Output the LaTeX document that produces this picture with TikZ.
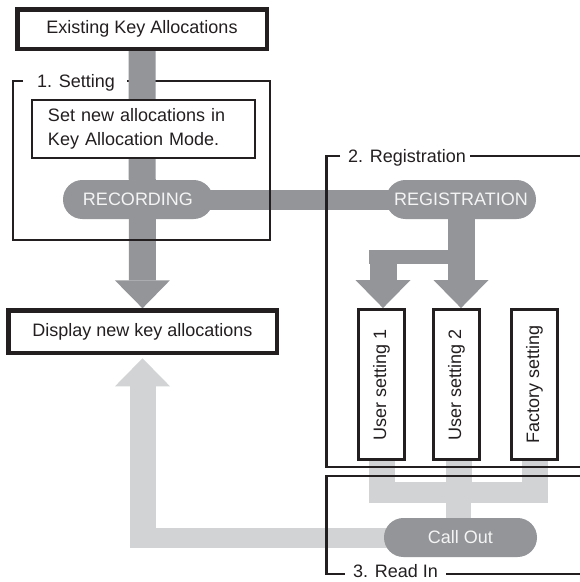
\documentclass[tikz,border=0pt]{standalone}
\usepackage{fontspec}
\setmainfont{Liberation Sans}
\usetikzlibrary{arrows.meta}
\definecolor{barDark}{HTML}{939598}
\definecolor{barLight}{HTML}{D1D3D4}
\definecolor{ink}{HTML}{231F20}
\definecolor{pillText}{HTML}{F4F4F4}
\pgfdeclarelayer{under}
\pgfdeclarelayer{bars}
\pgfsetlayers{under,bars,main}

\begin{document}
\begin{tikzpicture}[x=1pt,y=-1pt,
  every node/.style={font=\fontsize{18}{23.4}\selectfont, text=ink},
  heavybox/.style={draw=ink, line width=4.5pt, fill=white, inner sep=0pt},
  thinbox/.style={draw=ink, line width=2.5pt, fill=white, inner sep=0pt},
  vbox/.style={thinbox, minimum width=46.4pt, minimum height=150.4pt},
  pill/.style={fill=barDark, rounded corners=19.4pt, minimum height=39pt, inner sep=0pt, text=pillText},
  frameline/.style={draw=ink, line width=2.2pt},
  darkbar/.style={draw=barDark, line width=#1},
  lightbar/.style={draw=barLight, line width=#1},
  bigtip/.style={-{Triangle[width=55pt,length=28pt,line width=0pt]}},
  framelabel/.style={anchor=base west, inner sep=0pt}
]
\useasboundingbox (0,0) rectangle (580,582);
\begin{pgfonlayer}{under}
  \fill[white] (0,0) rectangle (580,582);
  % top edge of the "Setting" frame runs beneath the main bar
  \draw[frameline] (127,81) -- (160,81);
\end{pgfonlayer}

% boxes
\node[heavybox, minimum width=249.5pt, minimum height=39.5pt] (top) at (142,29) {Existing Key Allocations};
\node[heavybox, minimum width=268.5pt, minimum height=42.5pt] (disp) at (142.5,331.8) {Display new key allocations};
\node[thinbox, text width=191pt, align=left, inner xsep=15.8pt, minimum height=57.6pt] (set) at (143.5,129) {Set new allocations in\\Key Allocation Mode.};
\node[vbox] (us1) at (381.5,384.5) {\rotatebox{90}{User setting 1}};
\node[vbox] (us2) at (456.5,384.5) {\rotatebox{90}{User setting 2}};
\node[vbox] (fac) at (534.5,384.5) {\rotatebox{90}{Factory setting}};

% pills
\node[pill, minimum width=150pt] (rec) at (138,199.5) {RECORDING};
\node[pill, minimum width=150pt] (reg) at (461,199.5) {REGISTRATION};
\node[pill, minimum width=153pt] (call) at (460.5,537.5) {Call Out};

% helper points for the bars
\coordinate (forkR) at (461,257);
\coordinate (forkL) at (369,257);
\coordinate (forkTop) at (383,250);
\coordinate (combBase) at (0,503);
\coordinate (s2) at (458.5,461);
\coordinate (combL) at (369,492.5);
\coordinate (combR) at (547,492.5);
\coordinate (elbow) at (130,537.5);
\coordinate (elbowLow) at (142.5,547.5);

\begin{pgfonlayer}{bars}
  % dark flow
  \draw[darkbar=27pt, bigtip] (top.south) -- (disp.north);
  \draw[darkbar=20pt] (rec.center) -- (reg.center);
  \draw[darkbar=27pt, bigtip] (reg.south) -- (reg.south |- us2.north);
  \draw[darkbar=14pt] (forkR) -- (forkL);
  \draw[darkbar=27pt, bigtip] (forkTop) -- (forkTop |- us1.north);
  % light flow
  \draw[lightbar=26pt] (us1.south) -- (us1.south |- combBase);
  \draw[lightbar=26pt] (s2) -- (s2 |- combBase);
  \draw[lightbar=26pt] (fac.south) -- (fac.south |- combBase);
  \draw[lightbar=21pt] (combL) -- (combR);
  \draw[lightbar=25pt] (s2 |- combBase) -- (s2 |- call.north);
  \draw[lightbar=20pt] (call.center) -- (elbow);
  \draw[lightbar=26pt, bigtip, shorten >=3pt] (elbowLow) -- (disp.south);
\end{pgfonlayer}

% frames
\draw[frameline] (23,81) -- (13,81) -- (13,240) -- (270,240) -- (270,81) -- (156,81);
\draw[frameline] (340,156) -- (326.5,156) -- (326.5,467) -- (580,467);
\draw[frameline] (470,156) -- (580,156);
\draw[frameline] (580,476) -- (326.5,476) -- (326.5,574) -- (345,574);
\draw[frameline] (446,574) -- (580,574);
\node[framelabel] (lab1) at (37,87.5) {1. Setting};
\node[framelabel] (lab2) at (348,162) {2. Registration};
\node[framelabel] (lab3) at (353,577) {3. Read In};
\end{tikzpicture}
\end{document}
